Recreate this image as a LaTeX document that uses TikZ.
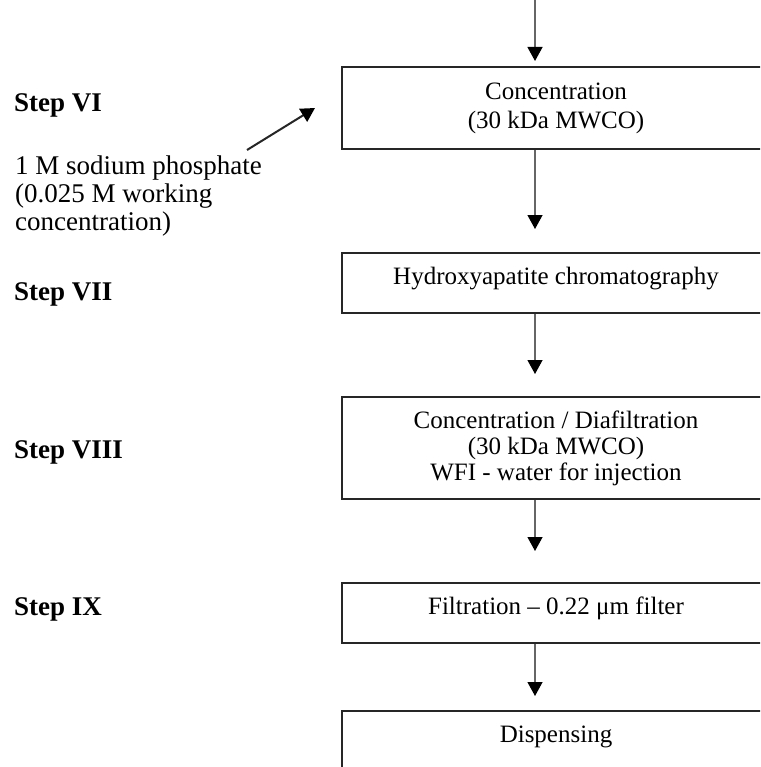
\documentclass[tikz,border=0pt]{standalone}
\usepackage{fontspec}
\setmainfont{Liberation Serif}
\usetikzlibrary{arrows.meta}
\begin{document}
\begin{tikzpicture}[x=1pt,y=-1pt,
  stage/.style={draw=black!85, line width=2pt, minimum width=428pt,
    inner xsep=0pt, inner ysep=0pt, align=center,
    font=\fontsize{25}{29}\selectfont},
  oneline/.style={text height=31.5pt, text depth=28.5pt},
  flow/.style={draw=black!60, line width=1.3pt,
    -{Triangle[width=15pt,length=14pt,black]}},
  steplabel/.style={anchor=base west, inner sep=0pt,
    font=\fontsize{27}{28}\selectfont\bfseries},
  note/.style={anchor=north west, inner sep=0pt, align=left,
    font=\fontsize{27}{28}\selectfont},
]
\useasboundingbox (0,0) rectangle (760,767);
\clip (0,0) rectangle (760,767);

% process stages (right edge runs off the page)
\node[stage, minimum height=82pt] (b1) at (556,108)
  {Concentration\\(30 kDa MWCO)};
\node[stage, oneline] (b2) at (556,283) {Hydroxyapatite chromatography};
\node[stage, minimum height=102pt, font=\fontsize{25}{26}\selectfont] (b3) at (556,448)
  {Concentration / Diafiltration\\(30 kDa MWCO)\\WFI - water for injection};
\node[stage, oneline] (b4) at (556,613) {Filtration – 0.22 μm filter};
\node[stage, oneline] (b5) at (556,741) {Dispensing};

% step labels
\node[steplabel] (s6) at (14,112) {Step VI};
\node[steplabel] (s7) at (14,300) {Step VII};
\node[steplabel] (s8) at (14,458) {Step VIII};
\node[steplabel] (s9) at (14,615) {Step IX};
\node[note] (buffer) at (15,155.5)
  {1 M sodium phosphate\\(0.025 M working\\concentration)};

% flow line
\coordinate (ax) at (535,0);
\coordinate (feed) at (535,-2);
\draw[flow, shorten >=5pt]  (feed) -- (b1.north -| ax);
\draw[flow, shorten >=23pt] (b1.south -| ax) -- (b2.north -| ax);
\draw[flow, shorten >=22pt] (b2.south -| ax) -- (b3.north -| ax);
\draw[flow, shorten >=31pt] (b3.south -| ax) -- (b4.north -| ax);
\draw[flow, shorten >=14pt] (b4.south -| ax) -- (b5.north -| ax);

% buffer addition
\coordinate (addfrom) at (247,150);
\coordinate (addto) at (315,108);
\draw[flow, draw=black!85, line width=2pt] (addfrom) -- (addto);
\end{tikzpicture}
\end{document}
